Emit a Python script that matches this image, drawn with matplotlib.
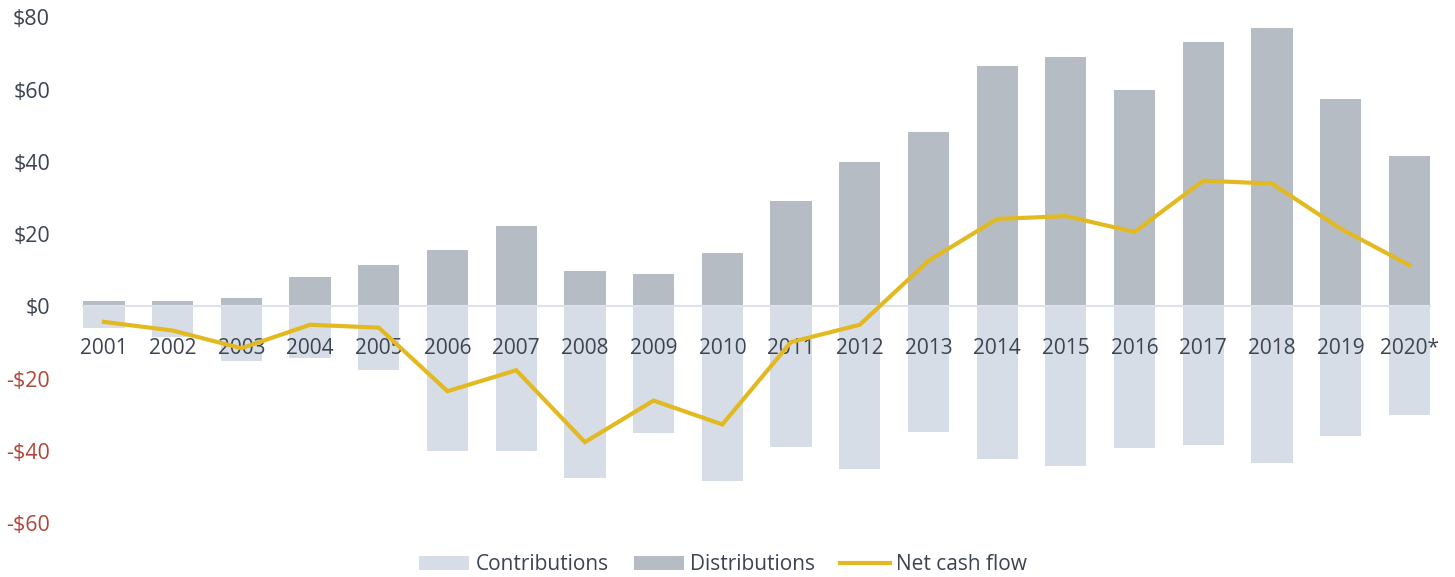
import matplotlib
matplotlib.use("Agg")
import matplotlib.pyplot as plt
from matplotlib.patches import Patch
from matplotlib.lines import Line2D

# Annual cash flows, $ billions
years = ["2001", "2002", "2003", "2004", "2005", "2006", "2007", "2008", "2009", "2010",
         "2011", "2012", "2013", "2014", "2015", "2016", "2017", "2018", "2019", "2020*"]
contributions = [-6.0, -8.5, -15.2, -14.3, -17.6, -40.1, -40.1, -47.6, -35.1, -48.4,
                 -39.0, -45.1, -34.9, -42.3, -44.1, -39.3, -38.5, -43.3, -36.0, -30.1]
distributions = [1.5, 1.5, 2.3, 8.1, 11.4, 15.6, 22.3, 9.8, 9.0, 14.8,
                 29.1, 39.9, 48.2, 66.5, 69.0, 59.8, 73.1, 77.2, 57.3, 41.5]
net_cash_flow = [-4.3, -6.7, -11.6, -5.1, -5.9, -23.5, -17.7, -37.6, -26.1, -32.7,
                 -9.9, -5.1, 12.6, 24.2, 25.0, 20.6, 34.8, 34.0, 21.5, 11.4]
y_ticks = [-60, -40, -20, 0, 20, 40, 60, 80]

CONTRIB_COLOR = "#d6dde6"
DISTRIB_COLOR = "#b6bcc4"
LINE_COLOR = "#e3b921"
TEXT_COLOR = "#3b4450"
NEG_COLOR = "#b0473a"

plt.rcParams["font.family"] = ["Open Sans", "DejaVu Sans"]

fig = plt.figure(figsize=(14.55, 5.77), dpi=100)
ax = fig.add_axes([0.0573, 0.0936, 0.9255, 0.8761])

x = list(range(len(years)))
ax.bar(x, contributions, width=0.6, color=CONTRIB_COLOR, zorder=1)
ax.bar(x, distributions, width=0.6, color=DISTRIB_COLOR, zorder=1)
ax.plot(x, net_cash_flow, color=LINE_COLOR, lw=3.0, solid_joinstyle="miter", zorder=3)

ax.set_xlim(-0.3, len(years) - 0.7)
ax.set_ylim(-60, 80)

for side in ["top", "right", "left"]:
    ax.spines[side].set_visible(False)
ax.spines["bottom"].set_position(("data", 0))
ax.spines["bottom"].set_color("#dde2ea")
ax.spines["bottom"].set_linewidth(1.5)
ax.spines["bottom"].set_zorder(1.2)

ax.set_xticks(x)
ax.set_xticklabels(years)
ax.tick_params(axis="x", length=0, pad=23, labelsize=15, labelcolor=TEXT_COLOR)

ax.set_yticks(y_ticks)
ax.set_yticklabels([f"-${-v}" if v < 0 else f"${v}" for v in y_ticks])
ax.tick_params(axis="y", length=0, pad=24, labelsize=15.5)
for lbl, v in zip(ax.get_yticklabels(), y_ticks):
    lbl.set_color(NEG_COLOR if v < 0 else TEXT_COLOR)

handles = [
    Patch(facecolor=CONTRIB_COLOR, label="Contributions"),
    Patch(facecolor=DISTRIB_COLOR, label="Distributions"),
    Line2D([0], [0], color=LINE_COLOR, lw=3.0, label="Net cash flow"),
]
fig.legend(handles=handles, loc="center", bbox_to_anchor=(0.497, 0.021), ncol=3,
           frameon=False, fontsize=15, labelcolor=TEXT_COLOR,
           handlelength=2.4, handleheight=0.67, handletextpad=0.3, columnspacing=1.2)

fig.savefig("out.png", dpi=100, facecolor="white")
